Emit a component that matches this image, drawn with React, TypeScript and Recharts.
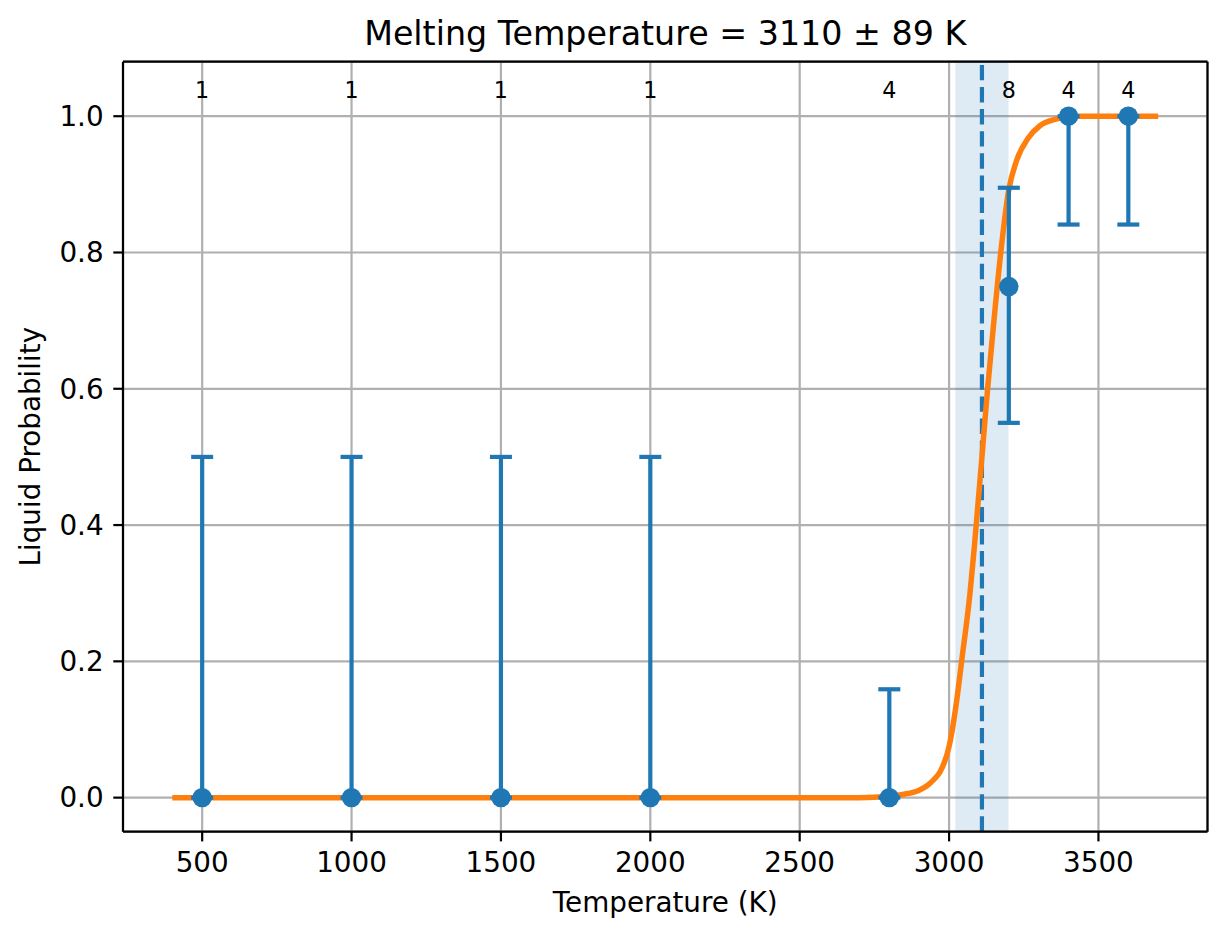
import React from 'react';
import {
  ComposedChart,
  XAxis,
  YAxis,
  CartesianGrid,
  Line,
  Scatter,
  ErrorBar,
  ReferenceArea,
  ReferenceLine,
  Label,
} from 'recharts';

// Measured points (temperature, liquid probability)
const temps = [500, 1000, 1500, 2000, 2800, 3200, 3400, 3600];
const probs = [0, 0, 0, 0, 0, 0.75, 1, 1];
const errLow = [0, 0, 0, 0, 0, 0.2, 0.159, 0.159];
const errHigh = [0.5, 0.5, 0.5, 0.5, 0.159, 0.145, 0, 0];
const counts = [1, 1, 1, 1, 4, 8, 4, 4];
const COUNT_LABEL_Y = 1.027;

// Fitted curve
const curveT = [400, 2700, 2800, 2850, 2900, 2925, 2950, 2970, 3000, 3026, 3042, 3070, 3085, 3110, 3129, 3148, 3173, 3199, 3226, 3265, 3304, 3360, 3400, 3700];
const curveP = [0, 0, 0.002, 0.005, 0.011, 0.017, 0.027, 0.038, 0.075, 0.144, 0.2, 0.3, 0.37, 0.5, 0.6, 0.69, 0.8, 0.89, 0.935, 0.968, 0.986, 0.996, 1, 1];

// Melting temperature estimate
const T_MELT = 3110;
const T_ERR = 89;

const xTicks = [500, 1000, 1500, 2000, 2500, 3000, 3500];
const yTicks = [0, 0.2, 0.4, 0.6, 0.8, 1.0];
const X_DOMAIN: [number, number] = [235, 3865];
const Y_DOMAIN: [number, number] = [-0.05, 1.08];

const pointData = temps.map((t, i) => ({ x: t, y: probs[i], err: [errLow[i], errHigh[i]] }));
const countData = temps.map((t, i) => ({ x: t, y: COUNT_LABEL_Y, n: counts[i] }));
const curveData = curveT.map((t, i) => ({ x: t, y: curveP[i] }));

const FONT = 'DejaVu Sans';
const BLUE = '#1f77b4';
const ORANGE = '#ff7f0e';
const FS = 27.8;

const Dot = (p: any) => <circle cx={p.cx} cy={p.cy} r={9.7} fill={BLUE} />;
const CountText = (p: any) => (
  <text x={p.cx} y={p.cy} textAnchor="middle" fontSize={22.2} fontFamily={FONT} fill="#000">
    {p.payload.n}
  </text>
);

export default function App() {
  return (
    <div style={{ position: 'absolute', left: 0, top: 0, width: 1227, height: 939, background: '#fff' }}>
      <ComposedChart width={1227} height={939} margin={{ top: 61.7, right: 19.5, bottom: 7.3, left: 13 }}>
        <CartesianGrid stroke="#b0b0b0" strokeWidth={2.2} />
        <ReferenceArea x1={T_MELT - T_ERR} x2={T_MELT + T_ERR} fill={BLUE} fillOpacity={0.15} stroke="none" ifOverflow="visible" />
        <XAxis
          dataKey="x"
          type="number"
          domain={X_DOMAIN}
          ticks={xTicks}
          interval={0}
          allowDataOverflow
          height={100}
          axisLine={{ stroke: '#000', strokeWidth: 2.2 }}
          tickLine={{ stroke: '#000', strokeWidth: 2.2 }}
          tickSize={9.7}
          tickMargin={11.1}
          tick={{ fill: '#000', fontSize: FS, fontFamily: FONT }}
        >
          <Label value="Temperature (K)" position="insideBottom" offset={19.7} style={{ fill: '#000', fontSize: FS, fontFamily: FONT }} />
        </XAxis>
        <YAxis
          type="number"
          domain={Y_DOMAIN}
          ticks={yTicks}
          interval={0}
          allowDataOverflow
          width={110}
          axisLine={{ stroke: '#000', strokeWidth: 2.2 }}
          tickLine={{ stroke: '#000', strokeWidth: 2.2 }}
          tickSize={9.7}
          tickMargin={9.7}
          tickFormatter={(v: number) => v.toFixed(1)}
          tick={{ fill: '#000', fontSize: FS, fontFamily: FONT }}
        >
          <Label
            value="Liquid Probability"
            angle={-90}
            position="insideLeft"
            offset={17}
            style={{ fill: '#000', fontSize: FS, fontFamily: FONT, textAnchor: 'middle' }}
          />
        </YAxis>
        <ReferenceLine x={T_MELT} stroke={BLUE} strokeWidth={4.2} strokeDasharray="15.4 6.7" />
        <Line
          data={curveData}
          dataKey="y"
          type="monotone"
          stroke={ORANGE}
          strokeWidth={5.5}
          dot={false}
          activeDot={false}
          isAnimationActive={false}
        />
        <Scatter data={pointData} dataKey="y" shape={Dot} isAnimationActive={false}>
          <ErrorBar dataKey="err" direction="y" width={11} stroke={BLUE} strokeWidth={4.2} isAnimationActive={false} />
        </Scatter>
        <Scatter data={countData} dataKey="y" shape={CountText} isAnimationActive={false} />
        <ReferenceLine y={Y_DOMAIN[1]} stroke="#000" strokeWidth={2.2}>
          <Label
            value={`Melting Temperature = ${T_MELT} ± ${T_ERR} K`}
            position="top"
            offset={16.7}
            style={{ fill: '#000', fontSize: 33.3, fontFamily: FONT }}
          />
        </ReferenceLine>
        <ReferenceLine x={X_DOMAIN[1]} stroke="#000" strokeWidth={2.2} />
      </ComposedChart>
    </div>
  );
}
